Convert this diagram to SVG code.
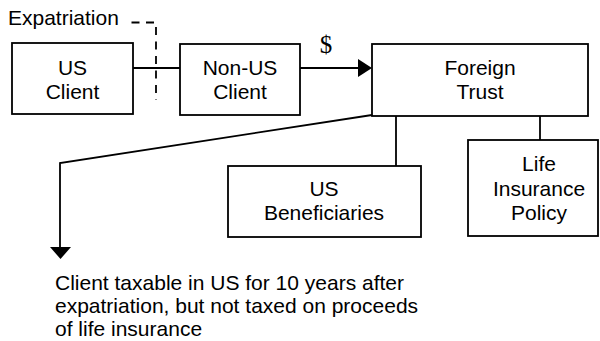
<svg xmlns="http://www.w3.org/2000/svg" width="600" height="341" viewBox="0 0 600 341">
<defs>
<style>
.box{fill:#fff;stroke:#000;stroke-width:1.8}
.t{font-family:"Liberation Sans",Arial,sans-serif;font-size:21px;fill:#000}
.c{text-anchor:middle}
.ln{fill:none;stroke:#000;stroke-width:1.8}
.dash{fill:none;stroke:#000;stroke-width:1.8;stroke-dasharray:8 6.5}
</style>
</defs>
<rect width="600" height="341" fill="#fff"/>
<g id="connectors">
<path class="dash" d="M131.5,22.5 H156 V100"/>
<path class="ln" d="M133,68 H180"/>
<path class="ln" d="M300,68 H359"/>
<polygon points="358,59 372,68 358,77" fill="#000"/>
<path class="ln" d="M372,115 L60,163 V248"/>
<polygon points="50,247 71,247 60.5,259" fill="#000"/>
<path class="ln" d="M396,116 V166"/>
<path class="ln" d="M540,116 V140"/>
</g>
<g id="expatriation-label"><text class="t" x="8" y="25">Expatriation</text></g>
<g id="dollar-label"><text x="326" y="53" text-anchor="middle" font-family="'Liberation Serif','Times New Roman',serif" font-size="25">$</text></g>
<g id="us-client">
<rect class="box" x="12" y="43" width="121" height="71"/>
<text class="t c" x="72.5" y="75">US</text>
<text class="t c" x="72.5" y="99">Client</text>
</g>
<g id="non-us-client">
<rect class="box" x="180" y="44" width="120" height="71"/>
<text class="t c" x="240" y="75">Non-US</text>
<text class="t c" x="240" y="99">Client</text>
</g>
<g id="foreign-trust">
<rect class="box" x="372" y="44" width="216" height="72"/>
<text class="t c" x="480" y="75">Foreign</text>
<text class="t c" x="480" y="99">Trust</text>
</g>
<g id="us-beneficiaries">
<rect class="box" x="228" y="166" width="193" height="71"/>
<text class="t c" x="324" y="196">US</text>
<text class="t c" x="324" y="220">Beneficiaries</text>
</g>
<g id="life-insurance-policy">
<rect class="box" x="468" y="140" width="130" height="96"/>
<text class="t c" x="539" y="171">Life</text>
<text class="t c" x="539" y="196">Insurance</text>
<text class="t c" x="539" y="220">Policy</text>
</g>
<g id="note">
<text class="t" x="55" y="290">Client taxable in US for 10 years after</text>
<text class="t" x="55" y="313">expatriation, but not taxed on proceeds</text>
<text class="t" x="55" y="336">of life insurance</text>
</g>
</svg>
